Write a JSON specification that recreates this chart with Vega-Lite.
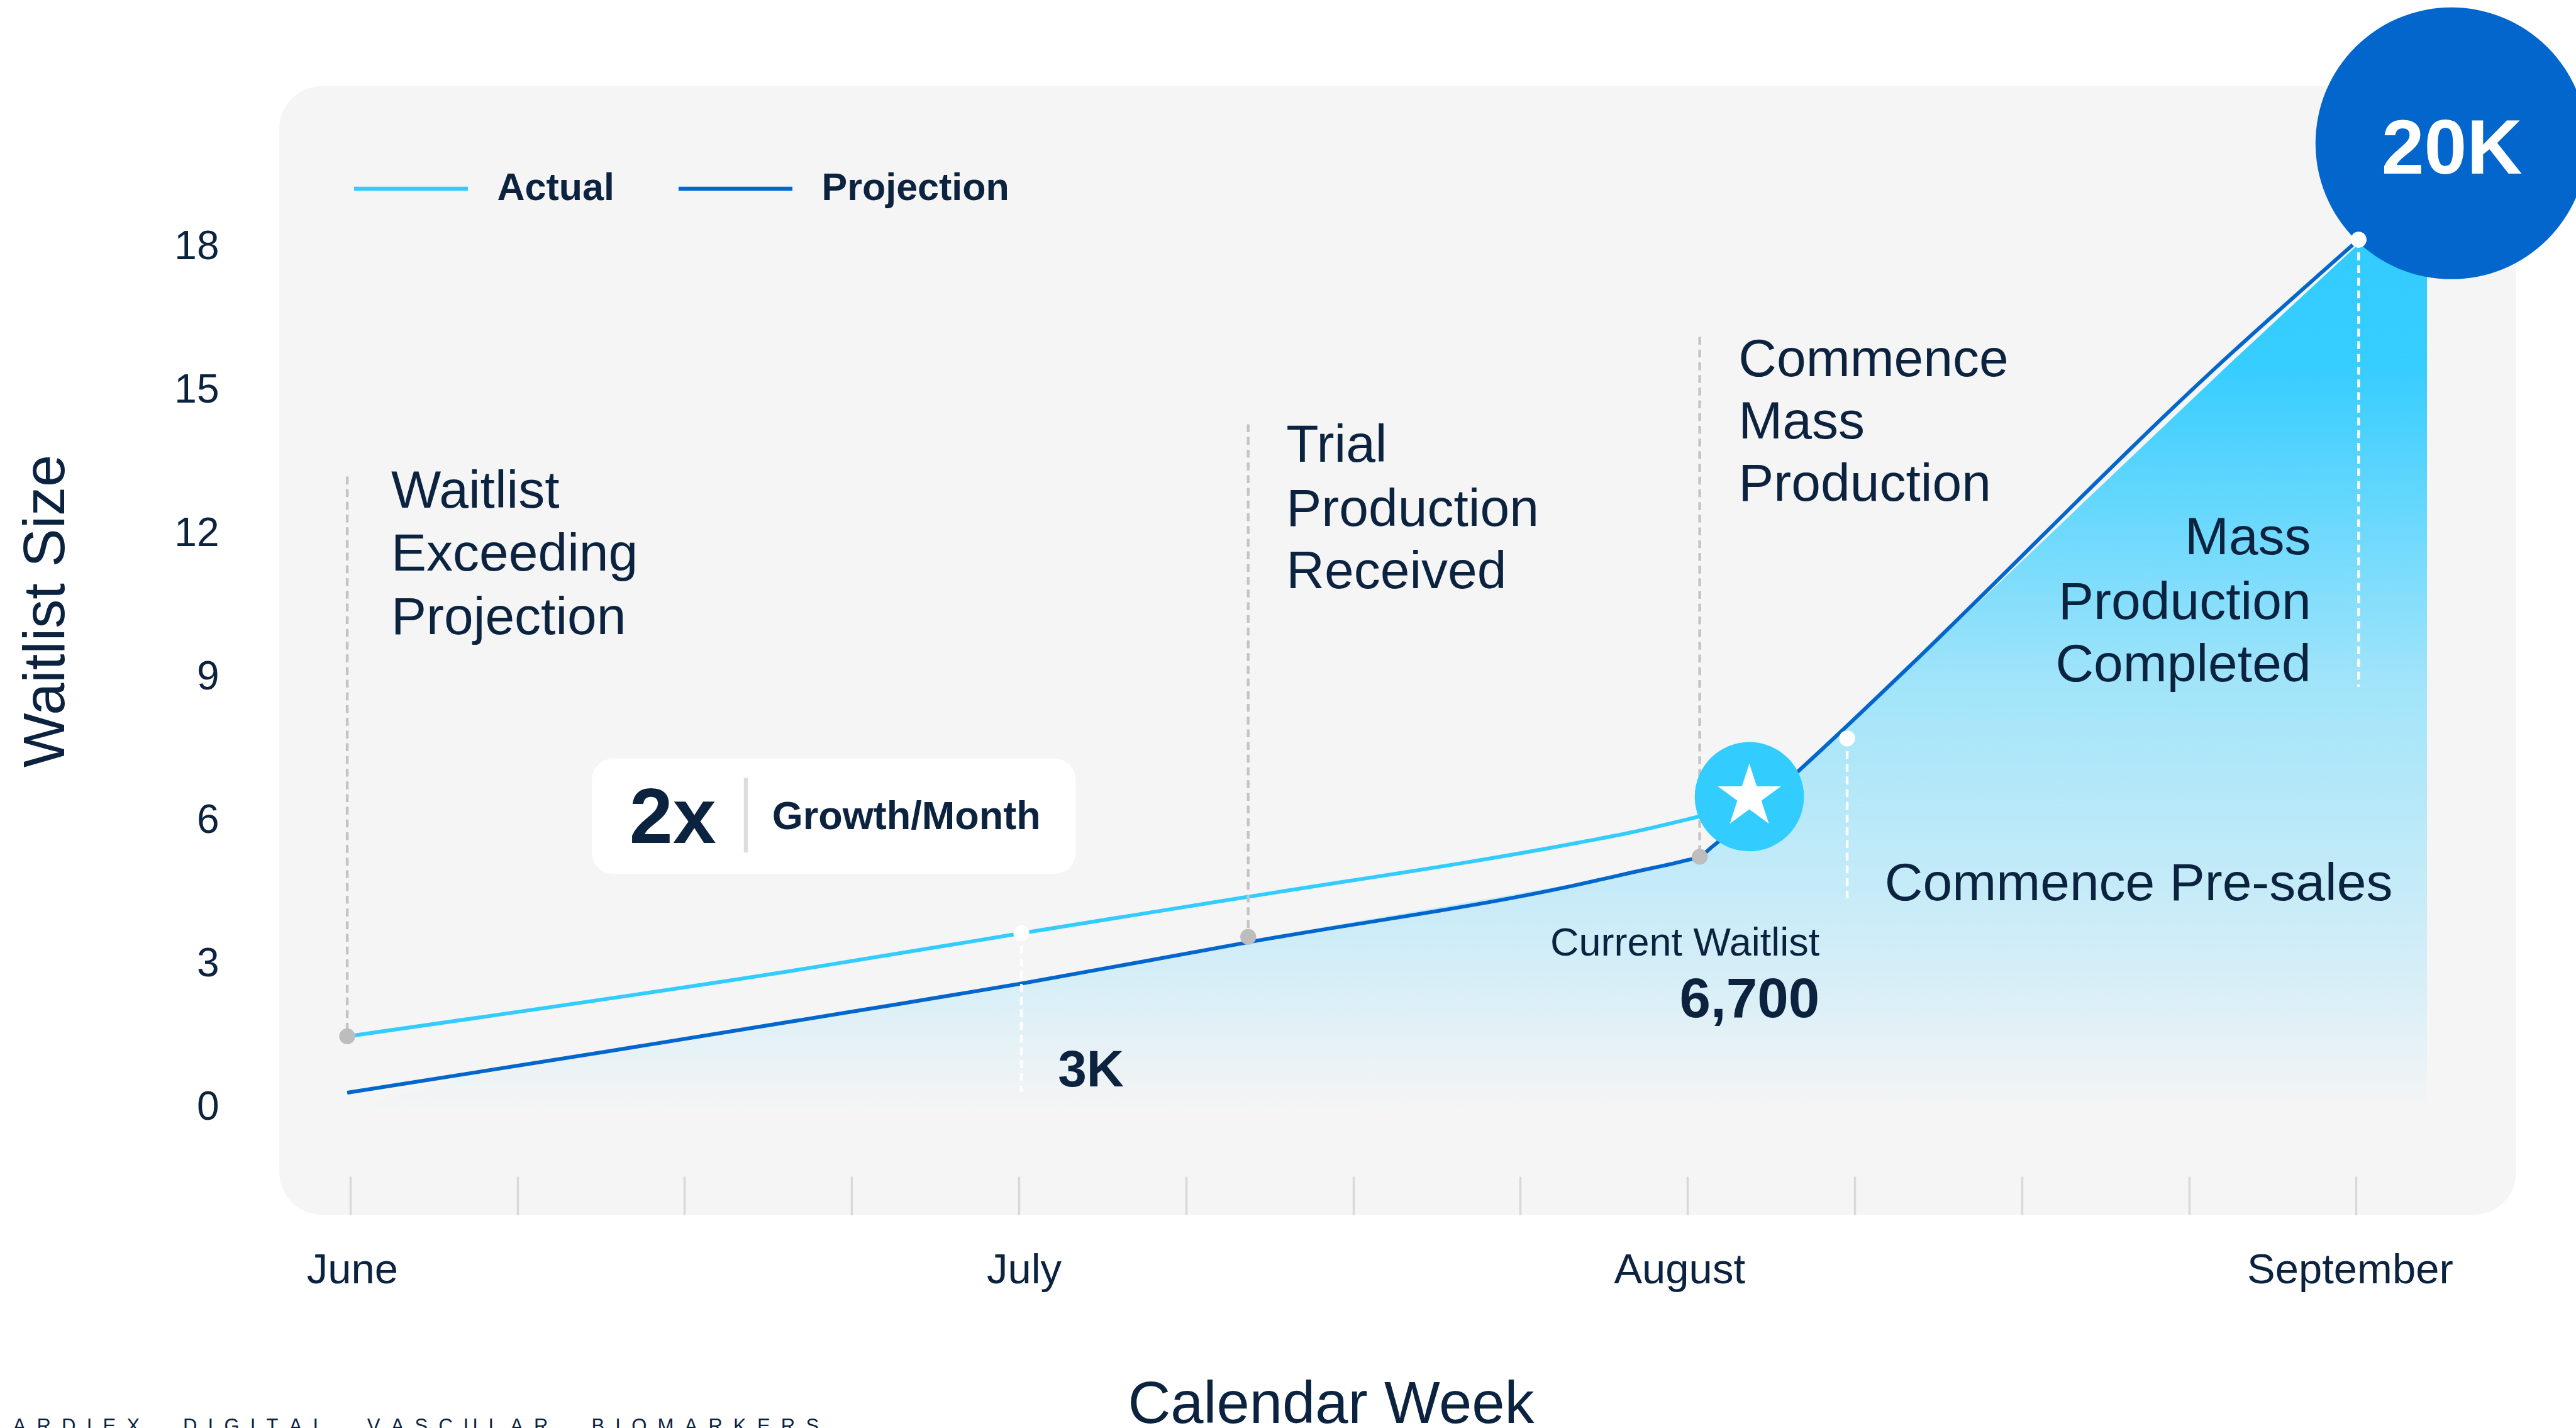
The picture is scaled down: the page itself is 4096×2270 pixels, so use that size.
{
"$schema":"https://vega.github.io/schema/vega-lite/v6.json",
"autosize":{"type":"none"},
"padding":{"left":444,"top":137,"right":95,"bottom":339},
"width":3557,"height":1794,
"background":"#FFFFFF",
"config":{"font":"Liberation Sans","view":{"fill":"#F5F5F5","stroke":null,"cornerRadius":68},"text":{"color":"#0C2340"}},
"encoding":{
 "x":{"field":"x","type":"quantitative","scale":{"domain":[-0.4247,12.958],"nice":false,"zero":false},
  "axis":{"values":[0,1,2,3,4,5,6,7,8,9,10,11,12],"grid":false,"domain":false,"ticks":true,"tickSize":-61,"tickWidth":3.5,"tickColor":"#D9D9D9",
   "labelExpr":"datum.value==0?'June':datum.value==4?'July':datum.value==8?'August':datum.value==12?'September':''",
   "labelOffset":{"condition":[{"test":"datum.value==0","value":3},{"test":"datum.value==4","value":8},{"test":"datum.value==8","value":-13},{"test":"datum.value==12","value":-10}],"value":0},
   "labelFontSize":67,"labelColor":"#0C2340","labelOverlap":false,"labelFlush":false,"labelBaseline":"alphabetic","labelPadding":169,"labelLimit":800,
   "title":"Calendar Week","titleFontSize":94,"titleFontWeight":"normal","titleColor":"#0C2340","titleX":1672,"titleY":330,"titleBaseline":"alphabetic","titleAlign":"center","titleLimit":1200}},
 "y":{"field":"y","type":"quantitative","scale":{"domain":[-2.285,21.325],"nice":false,"zero":false},
  "axis":{"values":[0,3,6,9,12,15,18],"grid":false,"domain":false,"ticks":false,"labelFontSize":64,"labelColor":"#0C2340","labelPadding":96,"labelOffset":3,
   "title":"Waitlist Size","titleFontSize":92,"titleFontWeight":"normal","titleColor":"#0C2340","titleAngle":-90,"titleX":-343,"titleY":834,"titleAlign":"center","titleBaseline":"alphabetic","titleLimit":1200}}
},
"layer":[
 {"data":{"values":[
  {"x":0.004,"y":-0.127,"y2":-0.127},{"x":0.145,"y":0.063,"y2":-0.125},{"x":0.632,"y":0.571,"y2":-0.12},{"x":1.278,"y":0.96,"y2":-0.11},{"x":2.987,"y":1.98,"y2":-0.08},{"x":4.015,"y":2.58,"y2":-0.05},{"x":5.372,"y":3.46,"y2":-0.03},{"x":7.343,"y":4.65,"y2":0.0},{"x":7.666,"y":4.9,"y2":0.01},{"x":8.0,"y":5.14,"y2":0.02},{"x":8.073,"y":5.2,"y2":0.02},{"x":8.15,"y":5.42,"y2":0.02},{"x":8.655,"y":6.97,"y2":0.03},{"x":8.94,"y":7.88,"y2":0.04},{"x":9.321,"y":9.13,"y2":0.05},{"x":11.241,"y":15.511,"y2":0.08},{"x":12.003,"y":17.987,"y2":0.09},{"x":12.424,"y":17.987,"y2":0.09}]},
  "mark":{"type":"area","color":{"gradient":"linear","x1":0,"y1":0,"x2":0,"y2":1,"stops":[{"offset":0,"color":"#33CCFF"},{"offset":0.14,"color":"#36CDFF"},{"offset":0.5,"color":"#A0E4FA"},{"offset":0.84,"color":"#D5EEF7"},{"offset":1,"color":"#F5F5F5"}]}},
  "encoding":{"y2":{"field":"y2"}}},
 {"data":{"values":[
  {"series":"Actual","x":-0.018,"y":1.447},{"series":"Actual","x":2.642,"y":2.818},{"series":"Actual","x":4.015,"y":3.605},{"series":"Actual","x":5.372,"y":4.367},{"series":"Actual","x":7.343,"y":5.496},{"series":"Actual","x":7.666,"y":5.716},{"series":"Actual","x":8.065,"y":6.042},{"series":"Actual","x":8.214,"y":6.169},
  {"series":"Projection","x":-0.018,"y":0.267},{"series":"Projection","x":1.535,"y":1.13},{"series":"Projection","x":2.987,"y":1.955},{"series":"Projection","x":4.015,"y":2.551},{"series":"Projection","x":5.372,"y":3.415},{"series":"Projection","x":7.343,"y":4.62},{"series":"Projection","x":7.666,"y":4.874},{"series":"Projection","x":8.0,"y":5.135},{"series":"Projection","x":8.073,"y":5.204},{"series":"Projection","x":8.15,"y":5.42},{"series":"Projection","x":8.655,"y":6.97},{"series":"Projection","x":8.94,"y":7.895},{"series":"Projection","x":9.321,"y":9.165},{"series":"Projection","x":11.183,"y":15.51},{"series":"Projection","x":12.015,"y":18.114}]},
  "mark":{"type":"line","strokeWidth":6,"interpolate":"monotone"},
  "encoding":{"color":{"field":"series","type":"nominal","scale":{"domain":["Actual","Projection"],"range":["#33CCFF","#0366CC"]},
   "legend":{"orient":"none","legendX":115.5,"legendY":69,"direction":"horizontal","columns":2,"title":null,"padding":0,"symbolType":"stroke","symbolSize":32761,"symbolStrokeWidth":6.7,"labelFontSize":61,"labelFontWeight":"bold","labelColor":"#0C2340","labelOffset":43,"labelLimit":700,"columnPadding":88}}}},
 {"data":{"values":[{"x":-0.018,"y":13.16,"y2":1.447},{"x":5.372,"y":14.25,"y2":3.529},{"x":8.073,"y":16.08,"y2":5.204}]},
  "mark":{"type":"rule","color":"#C4C4C4","strokeWidth":4.4,"strokeDash":[12.5,7.7]},
  "encoding":{"y2":{"field":"y2"}}},
 {"data":{"values":[{"x":4.015,"y":3.605,"y2":0.279},{"x":8.955,"y":7.68,"y2":4.341},{"x":12.015,"y":18.114,"y2":8.76}]},
  "mark":{"type":"rule","color":"#FFFFFF","strokeWidth":4.4,"strokeDash":[12.5,7.7]},
  "encoding":{"y2":{"field":"y2"}}},
 {"data":{"values":[{"x":-0.018,"y":1.447},{"x":5.372,"y":3.529},{"x":8.073,"y":5.204}]},
  "mark":{"type":"circle","color":"#BDBDBD","opacity":1,"size":640}},
 {"data":{"values":[{"x":4.015,"y":3.605},{"x":8.955,"y":7.68}]},
  "mark":{"type":"circle","color":"#FFFFFF","opacity":1,"size":640}},
 {"data":{"values":[{"x":8.37,"y":6.461}]},
  "mark":{"type":"circle","color":"#33CCFF","opacity":1,"size":30150}},
 {"data":{"values":[{"x":8.37,"y":6.461}]},
  "mark":{"type":"point","shape":"M0,-1L0.2245,-0.309L0.951,-0.309L0.363,0.118L0.588,0.809L0,0.382L-0.588,0.809L-0.363,0.118L-0.951,-0.309L-0.2245,-0.309Z","filled":true,"color":"#FFFFFF","opacity":1,"size":11150}},
 {"data":{"values":[{"x":12.57,"y":20.13}]},
  "mark":{"type":"circle","color":"#0366CC","opacity":1,"size":186750}},
 {"data":{"values":[{"x":12.015,"y":18.114}]},
  "mark":{"type":"circle","color":"#FFFFFF","opacity":1,"size":640}},
 {"data":{"values":[{"x":1.446,"x2":4.34,"y":7.26,"y2":4.849}]},
  "mark":{"type":"rect","color":"#FFFFFF","cornerRadius":34},
  "encoding":{"x2":{"field":"x2"},"y2":{"field":"y2"}}},
 {"data":{"values":[{"x":2.367,"y":6.855,"y2":5.293}]},
  "mark":{"type":"rule","color":"#DDDDDD","strokeWidth":6.5},
  "encoding":{"y2":{"field":"y2"}}},
 {"data":{"values":[
  {"x":0.245,"y":12.51,"label":"Waitlist"},{"x":0.245,"y":11.19,"label":"Exceeding"},{"x":0.245,"y":9.86,"label":"Projection"},
  {"x":5.6,"y":13.47,"label":"Trial"},{"x":5.6,"y":12.13,"label":"Production"},{"x":5.6,"y":10.82,"label":"Received"},
  {"x":8.305,"y":15.26,"label":"Commence"},{"x":8.305,"y":13.95,"label":"Mass"},{"x":8.305,"y":12.65,"label":"Production"},
  {"x":9.18,"y":4.3,"label":"Commence Pre-sales"}]},
  "mark":{"type":"text","align":"left","baseline":"alphabetic","fontSize":84},
  "encoding":{"text":{"field":"label"}}},
 {"data":{"values":[{"x":11.73,"y":11.54,"label":"Mass"},{"x":11.73,"y":10.18,"label":"Production"},{"x":11.73,"y":8.87,"label":"Completed"}]},
  "mark":{"type":"text","align":"right","baseline":"alphabetic","fontSize":84},
  "encoding":{"text":{"field":"label"}}},
 {"data":{"values":[{"x":8.79,"y":3.135,"label":"Current Waitlist"}]},
  "mark":{"type":"text","align":"right","baseline":"alphabetic","fontSize":63},
  "encoding":{"text":{"field":"label"}}},
 {"data":{"values":[{"x":8.79,"y":1.85,"label":"6,700"}]},
  "mark":{"type":"text","align":"right","baseline":"alphabetic","fontSize":89,"fontWeight":"bold"},
  "encoding":{"text":{"field":"label"}}},
 {"data":{"values":[{"x":4.234,"y":0.397,"label":"3K"}]},
  "mark":{"type":"text","align":"left","baseline":"alphabetic","fontSize":82,"fontWeight":"bold"},
  "encoding":{"text":{"field":"label"}}},
 {"data":{"values":[{"x":12.573,"y":19.5,"label":"20K"}]},
  "mark":{"type":"text","align":"center","baseline":"alphabetic","fontSize":122,"fontWeight":"bold","color":"#FFFFFF"},
  "encoding":{"text":{"field":"label"}}},
 {"data":{"values":[{"x":1.67,"y":5.49,"label":"2x"}]},
  "mark":{"type":"text","align":"left","baseline":"alphabetic","fontSize":124,"fontWeight":"bold"},
  "encoding":{"text":{"field":"label"}}},
 {"data":{"values":[{"x":2.524,"y":5.78,"label":"Growth/Month"}]},
  "mark":{"type":"text","align":"left","baseline":"alphabetic","fontSize":63,"fontWeight":"bold"},
  "encoding":{"text":{"field":"label"}}},
 {"data":{"values":[{"x":-2.018,"y":-6.84,"label":"A\u00A0\u00A0R\u00A0\u00A0D\u00A0\u00A0I\u00A0\u00A0E\u00A0\u00A0X\u00A0\u00A0\u00A0\u00A0\u00A0\u00A0\u00A0\u00A0D\u00A0\u00A0I\u00A0\u00A0G\u00A0\u00A0I\u00A0\u00A0T\u00A0\u00A0A\u00A0\u00A0L\u00A0\u00A0\u00A0\u00A0\u00A0\u00A0\u00A0\u00A0V\u00A0\u00A0A\u00A0\u00A0S\u00A0\u00A0C\u00A0\u00A0U\u00A0\u00A0L\u00A0\u00A0A\u00A0\u00A0R\u00A0\u00A0\u00A0\u00A0\u00A0\u00A0\u00A0\u00A0B\u00A0\u00A0I\u00A0\u00A0O\u00A0\u00A0M\u00A0\u00A0A\u00A0\u00A0R\u00A0\u00A0K\u00A0\u00A0E\u00A0\u00A0R\u00A0\u00A0S"}]},
  "mark":{"type":"text","align":"left","baseline":"alphabetic","fontSize":31},
  "encoding":{"text":{"field":"label"}}}
]
}
